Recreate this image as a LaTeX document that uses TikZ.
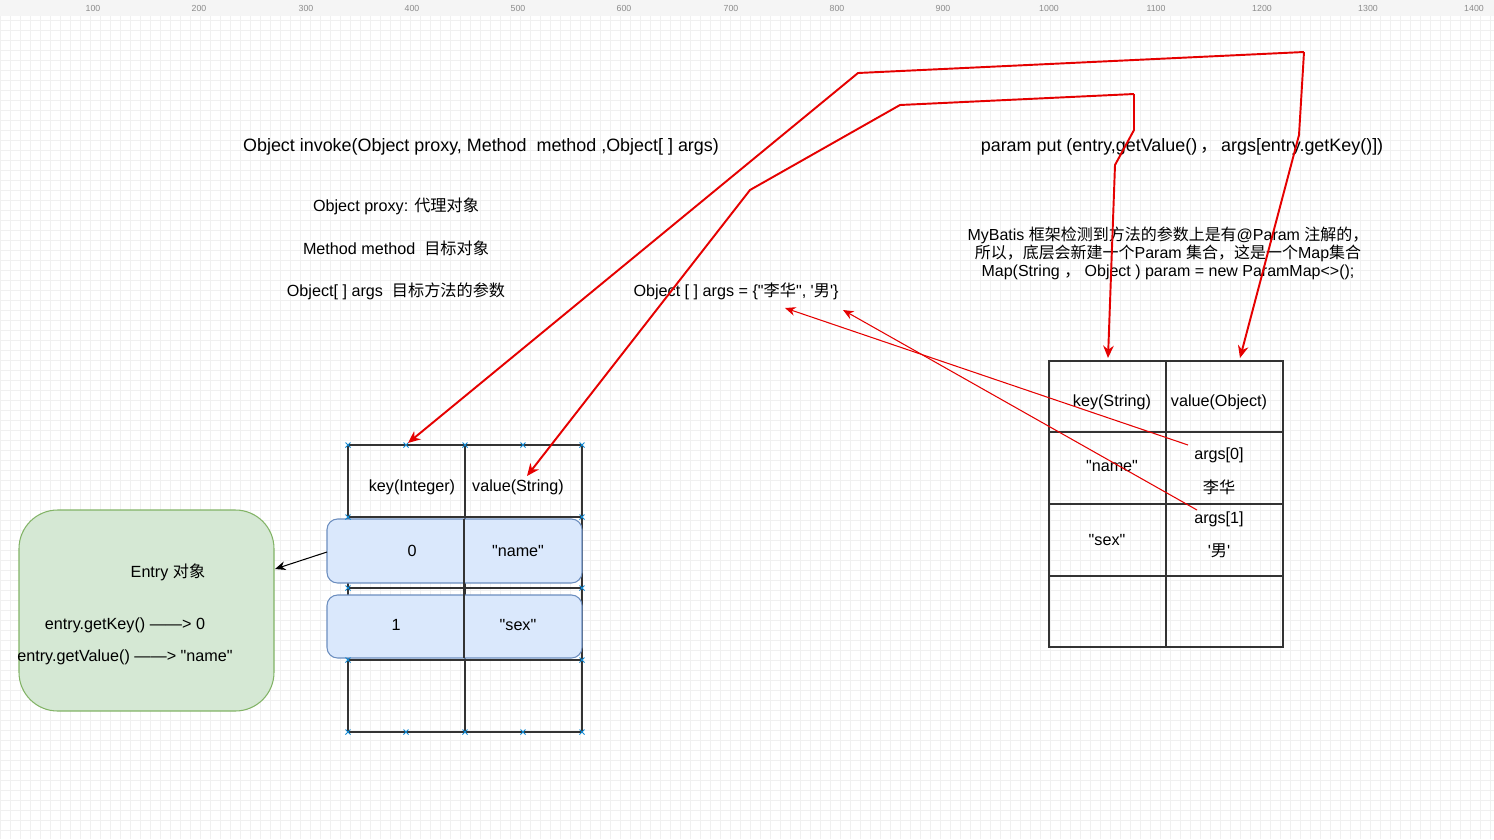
\documentclass[tikz,border=0pt]{standalone}
\usepackage{fontspec}
\usetikzlibrary{arrows.meta}
\setmainfont{Liberation Sans}[Ligatures=TeXOff]
\newfontfamily\cjk{Noto Sans CJK SC}
\newcommand\dq{"}
\newcommand\sq{'}
\definecolor{gfill}{RGB}{213,232,212}
\definecolor{gline}{RGB}{130,179,102}
\definecolor{bfill}{RGB}{218,232,252}
\definecolor{bline}{RGB}{108,142,191}
\begin{document}
\begin{tikzpicture}[x=0.02cm,y=-0.02cm,
  txt/.style={font=\fontsize{10.2}{12}\selectfont,inner sep=0pt,align=center},
  sm/.style={txt,font=\fontsize{9.2}{11}\selectfont},
  cell/.style={draw=black!80,line width=0.6pt},
  redarr/.style={draw=red!90!black,line width=1.1pt,-{Stealth[length=7pt,width=6pt]}},
  thinred/.style={draw=red!90!black,line width=0.6pt,-{Stealth[length=6pt,width=5pt]}},
  mk/.style={draw=cyan!70!blue,line width=0.5pt}]
\fill[white] (0,0) rectangle (1494,839);
\useasboundingbox (0,0) rectangle (1494,839);
\foreach \i in {0,10,...,1490} \draw[black!6,line width=0.3pt] (\i,16)--(\i,839);
\foreach \j in {20,30,...,830} \draw[black!6,line width=0.3pt] (0,\j)--(1494,\j);
\fill[black!4] (0,0) rectangle (1494,16);
\foreach \v/\p in {100/93,200/199,300/306,400/412,500/518,600/624,700/731,800/837,900/943,1000/1049,1100/1156,1200/1262,1300/1368,1400/1474}
  \node[font=\fontsize{5}{6}\selectfont,text=black!45] at (\p,8) {\v};
% texts
\node[txt] (inv) at (481,147) {Object invoke(Object proxy, Method\ \ method ,Object[ ] args)};
\node[sm] (t1) at (396,206) {Object proxy: {\cjk 代理对象}};
\node[sm] (t2) at (396,248) {Method method\ \ {\cjk 目标对象}};
\node[sm] (t3) at (396,291) {Object[ ] args\ \ {\cjk 目标方法的参数}};
\node[sm] (arr) at (736,291) {Object [ ] args = \{\dq{\cjk 李华}\dq, \sq{\cjk 男}\sq\}};
\node[txt] (put) at (1182,147) {param put (entry,getValue()\,{\cjk ，}\,args[entry.getKey()])};
\node[txt,font=\fontsize{9.1}{10.3}\selectfont] (mb) at (1168,253) {MyBatis {\cjk 框架检测到方法的参数上是有}@Param {\cjk 注解的，}\\{\cjk 所以，底层会新建一个}Param {\cjk 集合，这是一个}Map{\cjk 集合}\\Map(String {\cjk ，} Object ) param = new ParamMap<>();};
% green box
\node[draw=gline,rounded corners=22pt,minimum width=255*0.02cm,minimum height=201*0.02cm,line width=0.6pt,fill=gfill] (entry) at (146.5,610.5) {};
\node[sm] at (168,572) {Entry {\cjk 对象}};
\node[sm] at (125,625) {entry.getKey() ——> 0};
\node[sm] at (125,657) {entry.getValue() ——> \dq name\dq};
% left table
\draw[cell] (348,445) rectangle (582,732);
\foreach \y in {517,588,660} \draw[cell] (348,\y)--(582,\y);
\draw[cell] (465,445)--(465,732);
\node[draw=bline,fill=bfill,rounded corners=6pt,minimum width=255*0.02cm,minimum height=64*0.02cm,line width=0.6pt] (r0) at (454.5,551) {};
\node[draw=bline,fill=bfill,rounded corners=6pt,minimum width=255*0.02cm,minimum height=63*0.02cm,line width=0.6pt] (r1) at (454.5,626.5) {};
\draw[cell] (464,519)--(464,658);
\node[sm] (k) at (412,487) {key(Integer)};
\node[sm] (v) at (518,487) {value(String)};
\node[sm] at (412,551) {0};
\node[sm] at (518,551) {\dq name\dq};
\node[sm] at (396,625) {1};
\node[sm] at (518,625) {\dq sex\dq};
\foreach \x in {348,406,465,523,582} \foreach \y in {445,732} \draw[mk] (\x-2.5,\y-2.5)--(\x+2.5,\y+2.5) (\x-2.5,\y+2.5)--(\x+2.5,\y-2.5);
\foreach \x in {348,582} \foreach \y in {517,588,660} \draw[mk] (\x-2.5,\y-2.5)--(\x+2.5,\y+2.5) (\x-2.5,\y+2.5)--(\x+2.5,\y-2.5);
% right table
\draw[cell] (1049,361) rectangle (1283,647);
\foreach \y in {432,504,576} \draw[cell] (1049,\y)--(1283,\y);
\draw[cell] (1166,361)--(1166,647);
\node[sm] (rk) at (1112,402) {key(String)};
\node[sm] (rv) at (1219,402) {value(Object)};
\node[sm] (nm) at (1112,466) {\dq name\dq};
\node[sm] (a0) at (1219,455) {args[0]};
\node[sm] at (1219,487) {\cjk 李华};
\node[sm] at (1107,540) {\dq sex\dq};
\node[sm] (a1) at (1219,519) {args[1]};
\node[sm] at (1219,551) {\sq{\cjk 男}\sq};
% connectors
\coordinate (p1) at (1304,52); \coordinate (p2) at (858,73);
\coordinate (p3) at (1134,94); \coordinate (p4) at (900,105); \coordinate (p5) at (750,190);
\coordinate (kt) at (408,443); \coordinate (vt) at (527,476);
\coordinate (rkt) at (1108,358); \coordinate (rvt) at (1240,358);
\coordinate (es) at (327,552); \coordinate (ee) at (275,569);
\draw[redarr] (p1)--(p2)--(kt);
\draw[redarr] (p1)--(1299,135)--(rvt);
\draw[redarr] (p3)--(p4)--(p5)--(vt);
\draw[redarr] (p3)--(1134,130)--(1115,165)--(rkt);
\draw[thinred] (1188,445)--(785,308);
\draw[thinred] (1197,510)--(843,310);
\draw[line width=0.6pt,-{Stealth[length=6pt,width=5pt]}] (es)--(ee);
\end{tikzpicture}
\end{document}
